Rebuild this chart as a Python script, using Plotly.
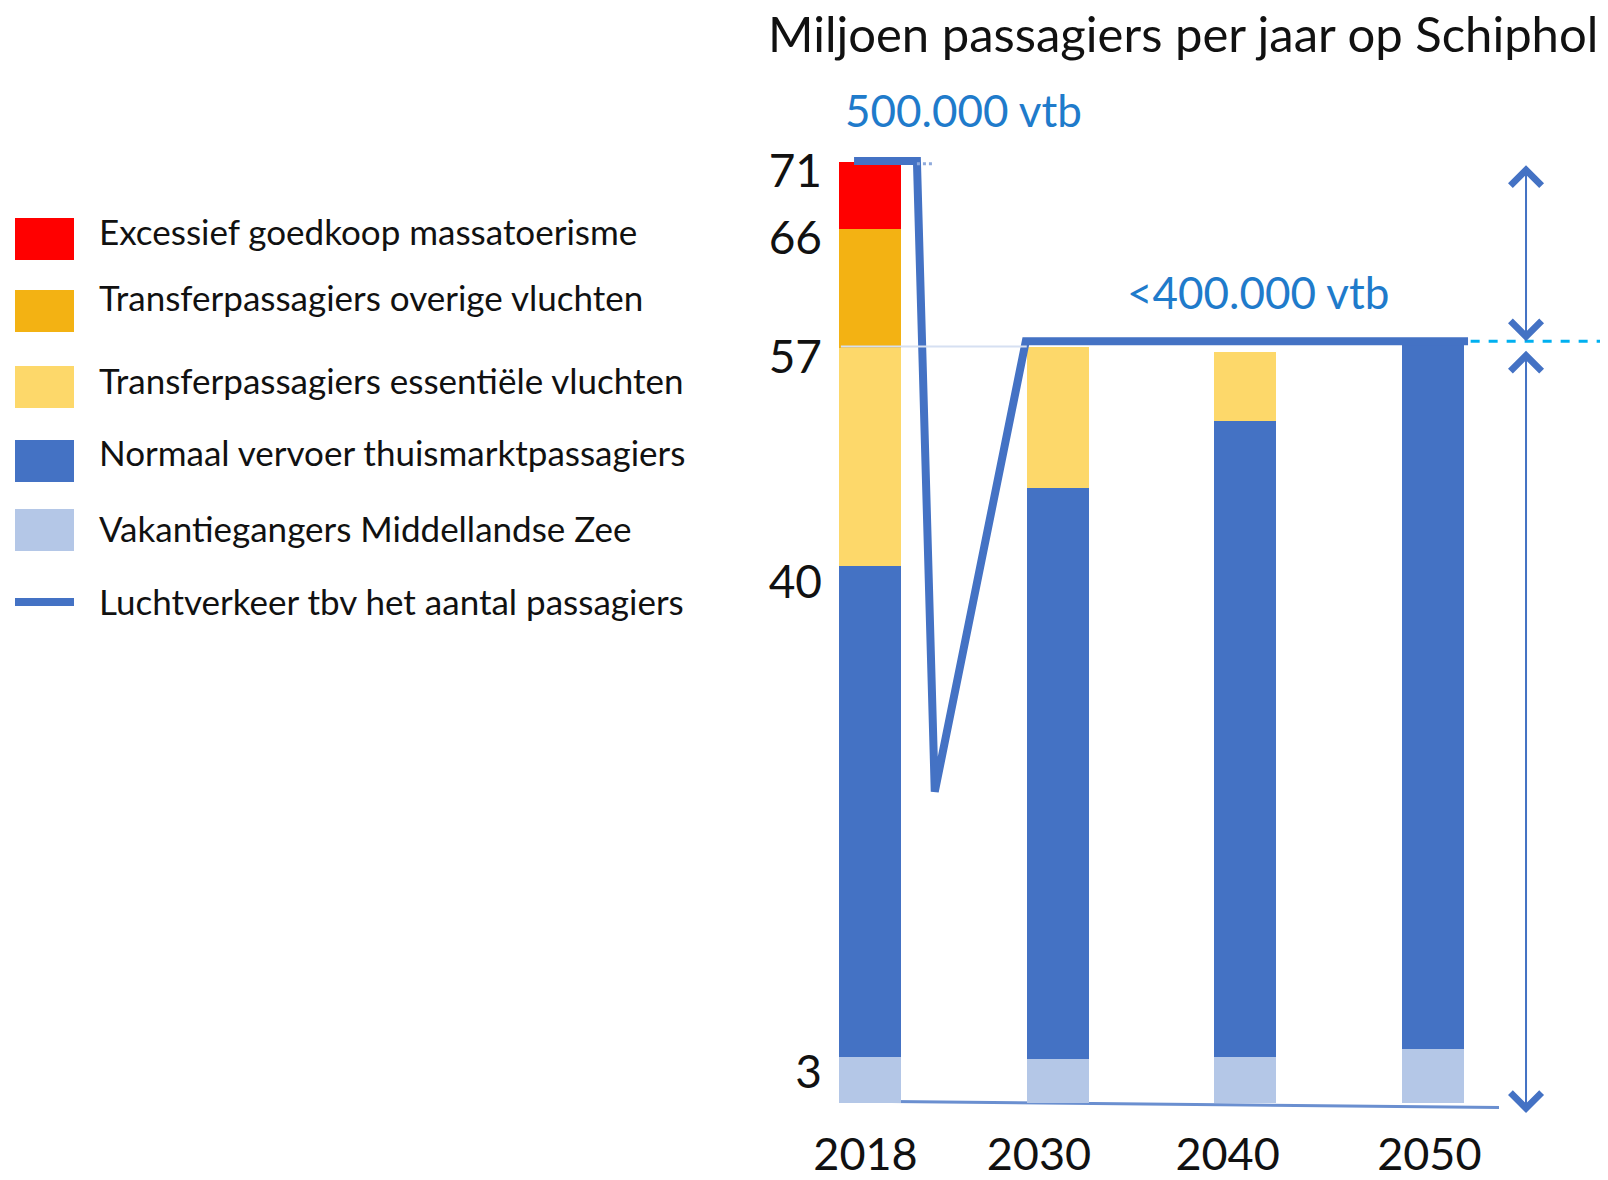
import plotly.graph_objects as go

# ---------------- data ----------------
categories = ["2018", "2030", "2040", "2050"]
cat_pos = [0, 1, 2, 3]
cat_label_pos = [-0.024, 0.90, 1.905, 2.98]

series_names = [
    "Vakantiegangers Middellandse Zee",
    "Normaal vervoer thuismarktpassagiers",
    "Transferpassagiers essentiële vluchten",
    "Transferpassagiers overige vluchten",
    "Excessief goedkoop massatoerisme",
]
vakantie = [3.5, 3.3, 3.5, 4.1]
normaal = [37.0, 43.1, 48.0, 53.4]
essentieel = [16.5, 10.7, 5.2, 0]
overig = [9.0, 0, 0, 0]
excessief = [5.0, 0, 0, 0]
series_values = [vakantie, normaal, essentieel, overig, excessief]
series_colors = ["#B4C7E7", "#4472C4", "#FDD86A", "#F3B213", "#FF0000"]

line_name = "Luchtverkeer tbv het aantal passagiers"
line_x = [-0.085, 0.25, 0.345, 0.83, 3.186]
line_y = [71.1, 71.1, 23.5, 57.5, 57.5]

y_ticks = [3, 40, 57, 66, 71]
title_text = "Miljoen passagiers per jaar op Schiphol"
label_500 = "500.000 vtb"
label_400 = "<400.000 vtb"

# legend order as in the picture
legend_items = [
    ("Excessief goedkoop massatoerisme", "#FF0000", "box"),
    ("Transferpassagiers overige vluchten", "#F3B213", "box"),
    ("Transferpassagiers essentiële vluchten", "#FDD86A", "box"),
    ("Normaal vervoer thuismarktpassagiers", "#4472C4", "box"),
    ("Vakantiegangers Middellandse Zee", "#B4C7E7", "box"),
    ("Luchtverkeer tbv het aantal passagiers", "#4472C4", "line"),
]

# ---------------- layout geometry (pixels) ----------------
FW, FH = 1608, 1180
ML, MR, MT, MB = 828, 8, 100, 61
PW, PH = FW - ML - MR, FH - MT - MB
X0 = -0.2238
X1 = X0 + PW / 187.7
Y0 = -1.2
Y1 = Y0 + PH / 13.25


def px(xp):
    return (xp - ML) / PW


def py(yp):
    return 1 - (yp - MT) / PH


FONT = "Lato, Open Sans, sans-serif"
BLUE = "#4472C4"
TXTBLUE = "#1F7BCB"

fig = go.Figure()

for name, vals, col in zip(series_names, series_values, series_colors):
    fig.add_trace(go.Bar(
        x=cat_pos, y=vals, name=name, marker=dict(color=col, line=dict(width=0)),
        width=0.33, showlegend=False,
    ))

fig.add_trace(go.Scatter(
    x=line_x, y=line_y, mode="lines", name=line_name,
    line=dict(color=BLUE, width=8), showlegend=False,
))

shapes = []
# baseline
shapes.append(dict(type="line", xref="x", yref="y", x0=-0.155, y0=0.15, x1=3.351, y1=-0.34,
                   line=dict(color="#6A8FD0", width=3), layer="below"))
# faint 57 line
shapes.append(dict(type="line", xref="x", yref="y", x0=-0.155, y0=57.1, x1=0.835, y1=57.1,
                   line=dict(color="#D6E0F2", width=2), layer="above"))
# little dotted end at the top
shapes.append(dict(type="line", xref="x", yref="y", x0=0.25, y0=70.9, x1=0.33, y1=70.9,
                   line=dict(color="#8FAADC", width=3, dash="dot"), layer="above"))
# dashed cyan line at the 57 level
shapes.append(dict(type="line", xref="x", yref="y", x0=3.2, y0=57.5, x1=X1, y1=57.5,
                   line=dict(color="#00B0F0", width=3, dash="dash"), layer="above"))

annotations = []
# arrows
arrow_x = 3.495
for ya, yb in [(70.9, 57.5), (56.9, -0.75)]:
    annotations.append(dict(x=arrow_x, y=yb, ax=arrow_x, ay=ya, xref="x", yref="y",
                            axref="x", ayref="y", text="", showarrow=True,
                            arrowhead=4, startarrowhead=4, arrowside="end+start",
                            arrowwidth=2, arrowsize=3, startarrowsize=3,
                            arrowcolor=BLUE, standoff=0, startstandoff=0))

annotations.append(dict(x=px(1600), y=py(33), xref="paper", yref="paper", text=title_text,
                        showarrow=False, xanchor="right", yanchor="middle",
                        font=dict(family=FONT, size=49, color="#111")))
annotations.append(dict(x=px(843), y=py(110), xref="paper", yref="paper", text=label_500,
                        showarrow=False, xanchor="left", yanchor="middle",
                        font=dict(family=FONT, size=44, color=TXTBLUE)))
annotations.append(dict(x=px(1125), y=py(292), xref="paper", yref="paper", text=label_400,
                        showarrow=False, xanchor="left", yanchor="middle",
                        font=dict(family=FONT, size=44, color=TXTBLUE)))

# legend (drawn manually)
box_centers = [239, 311, 387, 461, 530, 602]
text_centers = [231, 297, 380, 452, 528, 601]
for (lab, col, kind), cy, ty in zip(legend_items, box_centers, text_centers):
    half = 21 if kind == "box" else 4
    shapes.append(dict(type="rect", xref="paper", yref="paper",
                       x0=px(15), x1=px(74), y0=py(cy - half), y1=py(cy + half),
                       fillcolor=col, line=dict(width=0)))
    annotations.append(dict(x=px(97), y=py(ty), xref="paper", yref="paper", text=lab,
                            showarrow=False, xanchor="left", yanchor="middle",
                            font=dict(family=FONT, size=35, color="#111")))

fig.update_layout(
    width=FW, height=FH,
    margin=dict(l=ML, r=MR, t=MT, b=MB, pad=0),
    barmode="stack",
    plot_bgcolor="white", paper_bgcolor="white",
    font=dict(family=FONT, color="#111"),
    shapes=shapes, annotations=annotations,
    showlegend=False,
    xaxis=dict(range=[X0, X1], tickvals=cat_label_pos, ticktext=categories, showgrid=False,
               zeroline=False, showline=False, ticks="", ticklen=0, ticklabelstandoff=5,
               tickfont=dict(size=45, family=FONT, color="#111"),
               automargin=False),
    yaxis=dict(range=[Y0, Y1], tickvals=y_ticks, ticktext=[str(v) for v in y_ticks],
               showgrid=False, zeroline=False, showline=False, ticks="", ticklen=0,
               ticklabelshift=9, ticklabelstandoff=5,
               tickfont=dict(size=46, family=FONT, color="#111"),
               automargin=False),
)

fig.write_html("out.html", config={"displayModeBar": False},
               post_script="document.body.style.margin='0px';")
